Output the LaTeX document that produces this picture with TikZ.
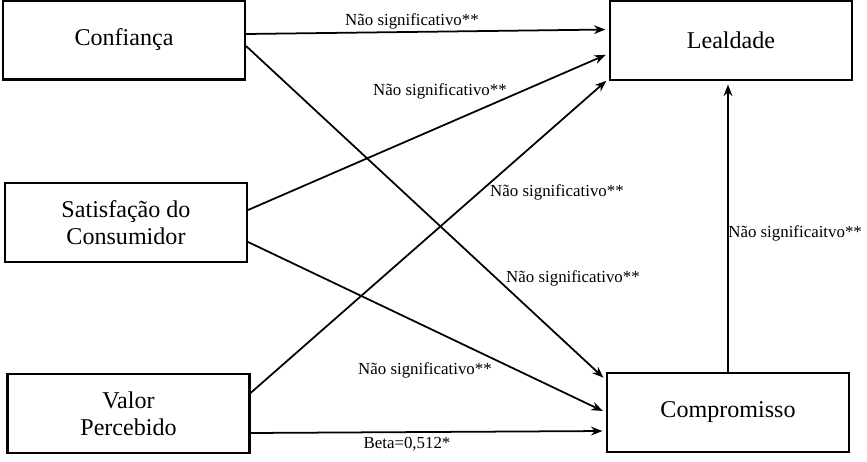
\documentclass[tikz,border=0pt]{standalone}
\usepackage{fontspec}
\setmainfont{Liberation Serif}
\usetikzlibrary{arrows.meta,positioning}

\begin{document}
\begin{tikzpicture}[x=1cm,y=1cm,>={Stealth[length=6.5pt,width=5pt]},
 caixa/.style={draw,line width=1.2pt,minimum width=4.84cm,minimum height=1.58cm,align=center,font=\fontsize{13.7}{15.5}\selectfont},
 seta/.style={->,line width=1pt,shorten >=2pt},
 rotulo/.style={inner sep=0pt,font=\fontsize{9.6}{11}\selectfont}]
\useasboundingbox (0,0) rectangle (17.34,-9.24);
\node[caixa] (conf) at (2.48,-0.80){Confiança};
\node[caixa] (leal) at (14.62,-0.81){Lealdade};
\node[caixa] (sat) at (2.52,-4.45){Satisfação do\\Consumidor};
\node[caixa] (val) at (2.57,-8.27){Valor\\Percebido};
\node[caixa] (comp) at (14.56,-8.25){Compromisso};
% setas
\draw[seta] ([yshift=.12cm]conf.east) -- ([yshift=.22cm]leal.west);
\draw[seta] ([yshift=-.12cm]conf.east) -- ([yshift=.65cm]comp.west);
\draw[seta] ([yshift=.25cm]sat.east) -- ([yshift=-.26cm]leal.west);
\draw[seta] ([yshift=-.39cm]sat.east) -- (comp.west);
\draw[seta] ([yshift=.41cm]val.east) -- ([yshift=-.76cm]leal.west);
\draw[seta] ([yshift=-.39cm]val.east) -- ([yshift=-.37cm]comp.west);
\draw[seta] (comp.north) -- (comp.north |- leal.south);
% rotulos
\node[rotulo] (r1) at (8.24,-0.42){Não significativo**};
\node[rotulo] (r2) at (11.46,-5.56){Não significativo**};
\node[rotulo] (r3) at (8.80,-1.82){Não significativo**};
\node[rotulo] (r4) at (8.50,-7.40){Não significativo**};
\node[rotulo] (r5) at (11.14,-3.84){Não significativo**};
\node[rotulo] (r6) at (8.14,-8.88){Beta=0,512*};
\node[rotulo,anchor=west] (r7) at (14.56,-4.66){Não significaitvo**};
\end{tikzpicture}
\end{document}
